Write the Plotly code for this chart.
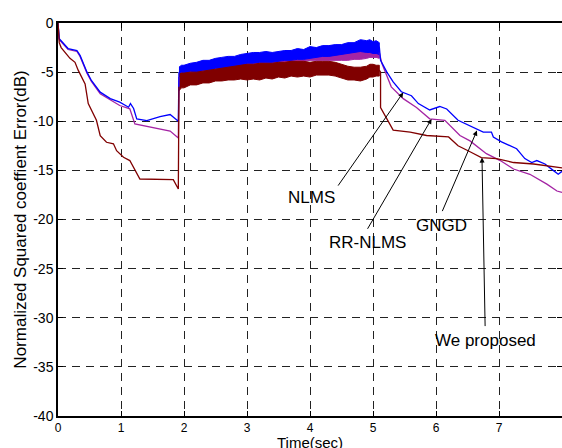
import plotly.graph_objects as go

# ---------------- data ----------------
# phase 1 (0 - 1.92 s)
t1_blue = [0, 0.02, 0.16, 0.30, 0.35, 0.46, 0.53, 0.67, 0.83, 0.98, 1.12, 1.15, 1.20, 1.25, 1.41, 1.62, 1.78, 1.91, 1.92]
y1_blue = [0, -1.6, -2.6, -2.8, -3.3, -5.0, -5.85, -7.04, -7.7, -8.06, -8.57, -8.2, -8.7, -9.76, -9.93, -9.52, -9.32, -10.0, -5.0]
t1_purple = [0, 0.02, 0.16, 0.30, 0.35, 0.46, 0.53, 0.67, 0.98, 1.14, 1.22, 1.41, 1.78, 1.91, 1.92]
y1_purple = [0, -1.7, -2.7, -2.9, -3.4, -5.1, -5.95, -7.2, -8.4, -8.74, -10.27, -10.54, -11.0, -11.7, -5.5]
t1_red = [0, 0.02, 0.05, 0.11, 0.19, 0.27, 0.32, 0.43, 0.48, 0.61, 0.67, 0.77, 0.88, 0.93, 1.04, 1.14, 1.25, 1.30, 1.83, 1.91, 1.92]
y1_red = [0, -2.0, -2.5, -2.96, -3.6, -4.0, -4.8, -6.2, -8.2, -9.9, -11.46, -12.14, -12.3, -13.0, -13.67, -14.0, -15.37, -15.88, -15.95, -16.9, -6.5]

# phase 2 (1.92 - 5.1 s): noisy band envelopes (ragged edges as seen)
t_band = [1.92, 1.96, 2.0, 2.1, 2.2, 2.3, 2.4, 2.5, 2.6, 2.7, 2.8, 2.9, 3.0, 3.1, 3.2, 3.3, 3.4, 3.5,
          3.6, 3.7, 3.8, 3.9, 4.0, 4.1, 4.2, 4.3, 4.4, 4.5, 4.6, 4.7, 4.8, 4.9, 4.95, 5.0, 5.05, 5.1]
blue_hi = [-4.5, -4.3, -4.3, -4.1, -4.0, -3.8, -3.8, -3.6, -3.5, -3.4, -3.4, -3.2, -3.1, -3.0, -3.0, -2.9, -3.0, -2.9,
           -2.8, -2.8, -2.6, -2.7, -2.4, -2.5, -2.3, -2.3, -2.2, -2.2, -2.0, -2.0, -1.7, -1.8, -1.7, -1.9, -1.8, -2.0]
blue_lo = [-5.2, -5.0, -5.1, -4.9, -5.0, -4.8, -4.8, -4.6, -4.6, -4.5, -4.4, -4.3, -4.1, -4.1, -4.0, -4.0, -4.0, -3.9,
           -3.8, -3.8, -3.7, -3.7, -3.6, -3.5, -3.4, -3.4, -3.3, -3.2, -3.1, -3.0, -2.9, -3.0, -3.0, -3.1, -3.1, -3.2]
purple_hi = [-4.8, -4.7, -4.6, -4.4, -4.3, -4.2, -4.1, -4.0, -3.9, -3.8, -3.7, -3.6, -3.4, -3.4, -3.3, -3.3, -3.3, -3.2,
             -3.1, -3.1, -3.0, -3.0, -2.9, -2.9, -2.9, -2.8, -2.8, -2.7, -2.6, -2.5, -2.4, -2.4, -2.5, -2.6, -2.6, -2.7]
purple_lo = [-5.6, -5.5, -5.4, -5.3, -5.2, -5.1, -5.0, -4.9, -4.8, -4.7, -4.6, -4.5, -4.3, -4.3, -4.2, -4.2, -4.2, -4.1,
             -4.0, -4.0, -3.9, -3.9, -3.8, -3.8, -3.8, -3.8, -3.8, -3.8, -3.8, -3.7, -3.7, -3.6, -3.5, -3.5, -3.5, -3.6]
red_hi = [-5.2, -5.1, -5.1, -5.0, -5.0, -4.9, -4.8, -4.7, -4.6, -4.5, -4.4, -4.3, -4.2, -4.2, -4.1, -4.1, -4.1, -4.0,
          -4.0, -3.9, -3.9, -3.9, -4.0, -3.9, -3.9, -3.9, -4.0, -4.2, -4.4, -4.5, -4.5, -4.4, -4.2, -4.2, -4.3, -4.3]
red_lo = [-6.9, -6.6, -6.6, -6.3, -6.3, -6.1, -6.1, -5.9, -5.9, -5.8, -5.8, -5.7, -5.8, -5.7, -5.8, -5.6, -5.7, -5.5,
          -5.6, -5.4, -5.5, -5.4, -5.5, -5.3, -5.3, -5.3, -5.4, -5.6, -5.8, -5.8, -5.9, -5.7, -5.5, -5.5, -5.4, -5.4]

# phase 3 (5.1 - 8 s)
t3_blue = [5.1, 5.12, 5.22, 5.32, 5.45, 5.61, 5.72, 5.9, 6.06, 6.17, 6.35, 6.54, 6.75, 6.88, 6.91, 7.04, 7.28, 7.41, 7.52, 7.6, 7.73, 7.86, 7.94, 8.0]
y3_blue = [-2.4, -3.8, -5.0, -6.0, -7.0, -7.4, -8.2, -8.85, -8.5, -8.75, -9.9, -10.45, -11.1, -11.1, -11.6, -12.1, -12.8, -13.8, -14.2, -14.0, -14.35, -15.0, -15.4, -15.1]
t3_purple = [5.1, 5.14, 5.29, 5.48, 5.69, 5.9, 6.14, 6.38, 6.54, 6.8, 7.02, 7.23, 7.49, 7.76, 7.92, 8.0]
y3_purple = [-3.0, -4.1, -6.5, -7.7, -8.6, -9.75, -9.9, -11.45, -12.0, -13.3, -14.0, -14.86, -15.4, -16.4, -17.1, -17.25]
t3_red = [5.1, 5.12, 5.12, 5.21, 5.32, 5.59, 5.85, 6.2, 6.35, 6.54, 6.72, 6.96, 7.23, 7.55, 7.81, 8.0]
y3_red = [-4.8, -5.0, -8.6, -9.6, -10.9, -11.1, -11.45, -11.6, -12.5, -13.1, -13.7, -13.8, -14.2, -14.35, -14.6, -14.75]

# annotations: label, text position, arrow tail, arrow head
ann_labels = ["NLMS", "RR-NLMS", "GNGD", "We proposed"]
ann_text_xy = [(4.02, -17.8), (4.92, -22.3), (6.08, -20.6), (6.78, -32.3)]
ann_tail_xy = [(4.43, -16.7), (4.90, -21.1), (6.09, -19.3), (6.78, -31.0)]
ann_head_xy = [(5.48, -7.07), (5.93, -9.76), (6.65, -10.95), (6.73, -13.7)]

x_ticks = [0, 1, 2, 3, 4, 5, 6, 7, 8]
y_ticks = [0, -5, -10, -15, -20, -25, -30, -35, -40]

BLUE = "#0000ff"
PURPLE = "#a424a4"
RED = "#800000"

fig = go.Figure()

def band(hi, lo, color):
    fig.add_trace(go.Scatter(
        x=t_band + t_band[::-1], y=hi + lo[::-1], fill="toself",
        fillcolor=color, mode="lines", line=dict(color=color, width=1),
        hoverinfo="skip", showlegend=False))

def line(x, y, color):
    fig.add_trace(go.Scatter(x=x, y=y, mode="lines",
                             line=dict(color=color, width=1.3),
                             showlegend=False))

band(purple_hi, purple_lo, PURPLE)
band(blue_hi, blue_lo, BLUE)
band(red_hi, red_lo, RED)
line(t1_purple, y1_purple, PURPLE)
line(t3_purple, y3_purple, PURPLE)
line(t1_blue, y1_blue, BLUE)
line(t3_blue, y3_blue, BLUE)
line(t1_red, y1_red, RED)
line(t3_red, y3_red, RED)

FONT = "Liberation Sans, Arial, sans-serif"

for lab, (tx, ty), (ax, ay), (hx, hy) in zip(ann_labels, ann_text_xy, ann_tail_xy, ann_head_xy):
    fig.add_annotation(x=tx, y=ty, xref="x", yref="y", text=lab, showarrow=False,
                       font=dict(family=FONT, size=17, color="black"))
    fig.add_annotation(x=hx, y=hy, ax=ax, ay=ay, xref="x", yref="y", axref="x", ayref="y",
                       text="", showarrow=True, arrowhead=2, arrowsize=1, arrowwidth=1,
                       arrowcolor="black", standoff=0, startstandoff=0)

# x-axis title as a paper annotation for exact placement
fig.add_annotation(x=0.5, y=0, xref="paper", yref="paper", text="Time(sec)", showarrow=False,
                   yanchor="top", yshift=-16, font=dict(family=FONT, size=15, color="black"))

axis_common = dict(showline=True, linecolor="black", linewidth=1.5, mirror="ticks",
                   ticks="inside", ticklen=5, tickcolor="black", automargin=False,
                   showgrid=True, gridcolor="#222222", gridwidth=1, griddash="8px,6px",
                   zeroline=False, tickfont=dict(family=FONT, size=14, color="black"))

fig.update_xaxes(range=[0, 8], tickvals=x_ticks, ticktext=[str(v) for v in x_ticks],
                 **axis_common)
fig.update_xaxes(tickfont=dict(family=FONT, size=12, color="black"))
fig.update_yaxes(range=[-40, 0], tickvals=y_ticks, ticktext=[str(v) for v in y_ticks],
                 title=dict(text="Normalized Squared coeffient Error(dB)",
                            font=dict(family=FONT, size=17, color="black"), standoff=2),
                 **axis_common)

fig.update_layout(width=562, height=448, margin=dict(l=58, r=0, t=23, b=32, autoexpand=False),
                  paper_bgcolor="white", plot_bgcolor="white", showlegend=False)

fig.write_html("out.html", config={"displayModeBar": False},
               post_script="document.body.style.margin='0';document.body.style.overflow='hidden';")
